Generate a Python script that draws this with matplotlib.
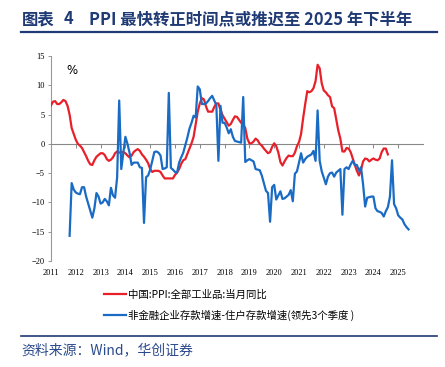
import numpy as np
import matplotlib
matplotlib.use("Agg")
import matplotlib.pyplot as plt
from matplotlib.lines import Line2D

# China PPI y/y, monthly from Jan 2011 to Aug 2024
ppi = [
    6.6, 7.2, 7.3, 6.8, 6.8, 7.1, 7.5, 7.3, 6.5, 5.0, 2.7, 1.7,       # 2011
    0.7, 0.0, -0.3, -0.7, -1.4, -2.1, -2.9, -3.5, -3.6, -2.8, -2.2, -1.9,  # 2012
    -1.6, -1.6, -1.9, -2.6, -2.9, -2.7, -2.3, -1.6, -1.3, -1.5, -1.4, -1.4,  # 2013
    -1.6, -2.0, -2.3, -2.0, -1.4, -1.1, -0.9, -1.2, -1.8, -2.2, -2.7, -3.3,  # 2014
    -4.3, -4.8, -4.6, -4.6, -4.6, -4.8, -5.4, -5.9, -5.9, -5.9, -5.9, -5.9,  # 2015
    -5.3, -4.9, -4.3, -3.4, -2.8, -2.6, -1.7, -0.8, 0.1, 1.2, 3.3, 5.5,   # 2016
    6.9, 7.8, 7.6, 6.4, 5.5, 5.5, 5.5, 6.3, 6.9, 6.9, 5.8, 4.9,          # 2017
    4.3, 3.7, 3.1, 3.4, 4.1, 4.7, 4.6, 4.1, 3.6, 3.3, 2.7, 0.9,          # 2018
    0.1, 0.1, 0.4, 0.9, 0.6, 0.0, -0.3, -0.8, -1.2, -1.6, -1.4, -0.5,    # 2019
    0.1, -0.4, -1.5, -3.1, -3.7, -3.0, -2.4, -2.0, -2.1, -2.1, -1.5, -0.4,  # 2020
    0.3, 1.7, 4.4, 6.8, 9.0, 8.8, 9.0, 9.5, 10.7, 13.5, 12.9, 10.3,      # 2021
    9.1, 8.8, 8.3, 8.0, 6.4, 6.1, 4.2, 2.3, 0.9, -1.3, -1.3, -0.7,       # 2022
    -0.8, -1.4, -2.5, -3.6, -4.6, -5.4, -4.4, -3.0, -2.5, -2.6, -3.0, -2.7,  # 2023
    -2.5, -2.7, -2.8, -2.5, -1.4, -0.8, -0.8, -1.8,                       # 2024
]
ppi_start = 0  # months after Jan 2011

# non-financial corp deposit growth minus household deposit growth, led 3 quarters
# monthly from Oct 2011 to Jun 2025
deposit_gap = [
    -15.7, -6.7, -7.8,                                                     # 2011
    -8.3, -8.5, -8.6, -7.4, -7.4, -9.0, -10.2, -11.4, -12.6, -11.0, -8.4, -9.0,   # 2012
    -10.2, -10.0, -9.4, -9.8, -10.5, -7.5, -8.8, -9.2, -5.7, 7.4, -4.3, -1.5,     # 2013
    1.2, 0.0, -1.5, -3.6, -3.2, -3.2, -3.2, -4.0, -4.1, -13.5, -5.7, -5.4,        # 2014
    -4.4, -2.9, -1.4, -1.3, -1.5, -2.0, -4.3, -4.2, -4.0, 8.7, -4.1, -4.4,        # 2015
    -4.8, -4.9, -3.2, -2.3, -1.5, -0.2, 1.1, 2.6, 3.6, 4.8, 4.5, 9.8,             # 2016
    9.3, 6.8, 6.8, 6.9, 7.3, 7.8, 8.2, 7.4, 6.6, -2.9, 6.5, 3.6,                  # 2017
    3.6, 2.8, 1.8, 2.5, 1.2, 0.5, 0.4, 0.3, 0.2, 8.0, -3.1, -2.8,                 # 2018
    -2.6, -2.8, -3.0, -4.3, -4.4, -4.5, -5.4, -6.7, -8.0, -8.4, -13.3, -7.4,      # 2019
    -7.0, -9.5, -8.8, -8.1, -9.4, -9.3, -9.0, -8.7, -7.9, -9.8, -5.1, -4.7,       # 2020
    -3.2, -1.6, -3.2, -2.6, -2.2, -2.0, -1.8, -1.2, -2.9, 5.7, -2.9, -4.7,        # 2021
    -5.8, -6.9, -5.6, -5.0, -4.9, -5.6, -4.9, -4.6, -4.3, -12.1, -4.3, -4.0,      # 2022
    -4.3, -3.5, -2.9, -3.6, -3.6, -4.6, -4.0, -6.9, -10.7, -9.2, -9.1, -9.0,      # 2023
    -9.0, -11.0, -11.5, -11.6, -11.8, -12.4, -11.5, -10.8, -9.0, -2.8, -10.3, -11.0,  # 2024
    -12.2, -12.6, -12.9, -13.7, -14.2, -14.6,                              # 2025
]
gap_start = 9

years = list(range(2011, 2026))
ppi_label = "中国:PPI:全部工业品:当月同比"
gap_label = "非金融企业存款增速-住户存款增速(领先3个季度 )"

red = "#E8202A"
blue = "#1A6BC4"
navy = "#1F3A74"
src_col = "#2B4A8C"
cjk = ["Noto Sans CJK SC", "DejaVu Sans"]
serif = ["Liberation Serif", "DejaVu Serif"]

ppi_x = 2011 + (ppi_start + np.arange(len(ppi))) / 12
gap_x = 2011 + (gap_start + np.arange(len(deposit_gap))) / 12

fig = plt.figure(figsize=(4.45, 3.67), dpi=100)
ax = fig.add_axes([0.1146, 0.2888, 0.836, 0.5586])

ax.plot(ppi_x, ppi, color=red, lw=1.6, label=ppi_label, zorder=3)
ax.plot(gap_x, deposit_gap, color=blue, lw=1.6, label=gap_label, zorder=4)

ax.set_xlim(2011, 2026)
ax.set_ylim(-20, 15)
ax.set_yticks(range(-20, 16, 5))
ax.set_xticks(years)

for s in ["top", "right"]:
    ax.spines[s].set_visible(False)
ax.spines["left"].set_color("#999999")
ax.spines["left"].set_linewidth(0.8)
ax.spines["bottom"].set_position(("data", 0))
ax.spines["bottom"].set_color("#888888")
ax.spines["bottom"].set_linewidth(0.8)
ax.tick_params(axis="x", direction="out", length=3, width=0.7, color="#888888", labelbottom=False)
ax.tick_params(axis="y", direction="out", length=2.5, width=0.7, color="#999999", pad=2)
for lab in ax.get_yticklabels():
    lab.set_fontfamily(serif)
    lab.set_fontsize(6)

sec = ax.secondary_xaxis(0.0)
sec.set_xticks(years)
sec.spines["bottom"].set_visible(False)
sec.tick_params(length=0, pad=6)
for lab in sec.get_xticklabels():
    lab.set_fontfamily(serif)
    lab.set_fontsize(6)

ax.text(0.04, 0.93, "%", transform=ax.transAxes, fontsize=8.5, family="DejaVu Sans", va="center")

# title and rules
title_y = 0.947
fig.text(0.049, title_y, "图表", fontsize=11.8, fontweight="bold", color=navy, family=cjk, va="center")
fig.text(0.144, title_y, "4", fontsize=11.8, fontweight="bold", color=navy, family=cjk, va="center")
fig.text(0.201, title_y, "PPI 最快转正时间点或推迟至 2025 年下半年", fontsize=11.8,
         fontweight="bold", color=navy, family=cjk, va="center")
fig.add_artist(Line2D([0.047, 0.982], [0.912, 0.912], color=navy, lw=1.6))
fig.add_artist(Line2D([0.047, 0.982], [0.085, 0.085], color=navy, lw=1.2))
fig.text(0.049, 0.046, "资料来源：Wind，华创证券", fontsize=10, color=src_col, family=cjk,
         style="italic", va="center")

handles, labels = ax.get_legend_handles_labels()
leg = fig.legend(handles, labels, loc="upper left", bbox_to_anchor=(0.234, 0.212), frameon=False,
                 prop={"family": cjk, "size": 7.5}, handlelength=2.1, handletextpad=0.15,
                 labelspacing=0.95, borderaxespad=0, borderpad=0)

fig.savefig("out.png", dpi=100)
